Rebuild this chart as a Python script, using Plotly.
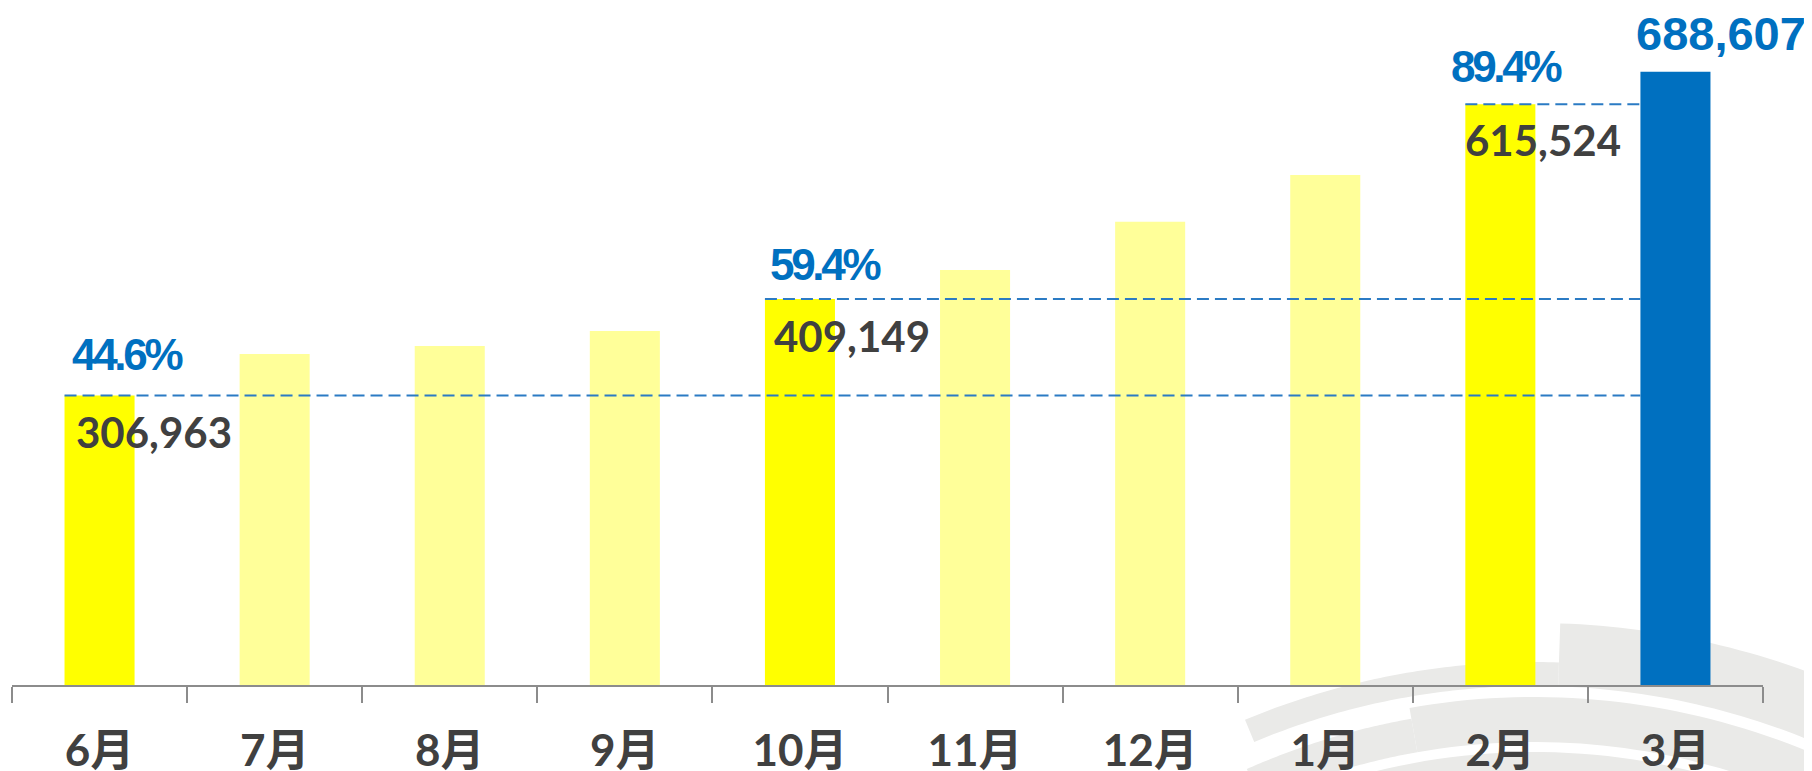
import numpy as np
import plotly.graph_objects as go

# ---------------- data ----------------
months = ["6月", "7月", "8月", "9月", "10月", "11月", "12月", "1月", "2月", "3月"]
bar_values = [306963, 350900, 359300, 375200, 409149, 439900, 491100, 540600, 615524, 650100]
highlight_months = ["6月", "10月", "2月"]
highlight_value_labels = ["306,963", "409,149", "615,524"]
highlight_pct_labels = ["44.6%", "59.4%", "89.4%"]
target_month = "3月"
target_label = "688,607"

# ---------------- layout geometry ----------------
BODY = 8                      # default page margin around the plot div
W, H = 1812 - BODY, 771 - BODY
ML, MR, MT, MB = 4, 49, 0, 86
PW = W - ML - MR
PH = H - MT - MB
PX_PER_UNIT = 1060.0          # value per pixel
YMAX = PH * PX_PER_UNIT

BAR_HALF = 0.2
DARK = "#404040"
BLUE = "#0070C0"

colors = []
for m in months:
    if m == target_month:
        colors.append(BLUE)
    elif m in highlight_months:
        colors.append("#FFFF00")
    else:
        colors.append("#FFFF99")

fig = go.Figure()
fig.add_trace(go.Bar(
    x=months, y=bar_values, marker=dict(color=colors, line=dict(width=0)),
    hoverinfo="skip", showlegend=False,
))

annotations = []
shapes = []

target_idx = months.index(target_month)

# dashed reference lines + labels for highlighted bars
lbl_shift = {  # (value label xshift, yshift, pct label xshift, yshift)
    "6月": (9, -37, 5, 41),
    "10月": (7, -37, 3, 35),
    "2月": (-2, -36, -16, 38),
}
for m, vlab, plab in zip(highlight_months, highlight_value_labels, highlight_pct_labels):
    i = months.index(m)
    v = bar_values[i]
    shapes.append(dict(
        type="line", xref="x", yref="y",
        x0=i - BAR_HALF, x1=target_idx - BAR_HALF, y0=v, y1=v,
        line=dict(color="#2B7BC4", width=2, dash="12px,6px"), layer="above",
    ))
    vx, vy, px_, py_ = lbl_shift[m]
    annotations.append(dict(
        x=i - BAR_HALF, y=v, xref="x", yref="y", text=vlab, showarrow=False,
        xanchor="left", yanchor="middle", xshift=vx, yshift=vy,
        font=dict(family="Lato, Open Sans, sans-serif", size=42, color=DARK, weight="bold"),
    ))
    annotations.append(dict(
        x=i - BAR_HALF, y=v, xref="x", yref="y",
        text='<span style="letter-spacing:-3.3px">' + plab + '</span>', showarrow=False,
        xanchor="left", yanchor="middle", xshift=px_, yshift=py_,
        font=dict(family="Liberation Sans Narrow, Arial Narrow, Liberation Sans, sans-serif",
                  size=44, color=BLUE, weight="bold"),
    ))

annotations.append(dict(
    x=target_idx - BAR_HALF, y=bar_values[target_idx], xref="x", yref="y",
    text=target_label, showarrow=False, xanchor="left", yanchor="middle",
    xshift=-6, yshift=38,
    font=dict(family="Liberation Sans, Arial, sans-serif", size=47, color=BLUE, weight="bold"),
))

# ---------------- decorative background arcs (page pixel geometry) ----------------
CX, CY = 1534.0, 1414.0


def to_paper(px, py):
    return (px - BODY - ML) / PW, (BODY + MT + PH - py) / PH


def ring_path(r_in, r_out, th0, th1, n=60):
    ths = np.radians(np.linspace(th0, th1, n))
    pts = [(CX + r_out * np.sin(t), CY - r_out * np.cos(t)) for t in ths]
    pts += [(CX + r_in * np.sin(t), CY - r_in * np.cos(t)) for t in ths[::-1]]
    pp = [to_paper(a, b) for a, b in pts]
    return "M " + " L ".join(f"{a:.5f},{b:.5f}" for a, b in pp) + " Z"


ARC_COLOR = "#EAEAE8"
for (ri, ro, t0, t1) in [
    (728, 791, 1.9, 45),
    (728, 752, -22.6, 1.9),
    (672, 706, -24, -10),
    (672, 717, -10, 45),
    (560, 662, -22, 45),
]:
    shapes.append(dict(type="path", xref="paper", yref="paper",
                       path=ring_path(ri, ro, t0, t1), fillcolor=ARC_COLOR,
                       line=dict(width=0), layer="below"))

fig.update_layout(
    width=W, height=H,
    margin=dict(l=ML, r=MR, t=MT, b=MB, pad=0, autoexpand=False),
    paper_bgcolor="white", plot_bgcolor="rgba(0,0,0,0)",
    bargap=0.6,
    annotations=annotations, shapes=shapes,
    xaxis=dict(
        type="category", categoryorder="array", categoryarray=months,
        range=[-0.5, len(months) - 0.5], automargin=False,
        tickson="boundaries", ticks="outside", ticklen=16, tickwidth=2, tickcolor="#8C8C8C",
        showline=True, linecolor="#8C8C8C", linewidth=2, showgrid=False, zeroline=False,
        tickfont=dict(family="Lato, Noto Sans CJK JP, sans-serif", size=44, color=DARK,
                      weight="bold"),
        ticklabelstandoff=26,
    ),
    yaxis=dict(range=[0, YMAX], visible=False, showgrid=False, zeroline=False,
               automargin=False),
)

fig.write_html("out.html")
